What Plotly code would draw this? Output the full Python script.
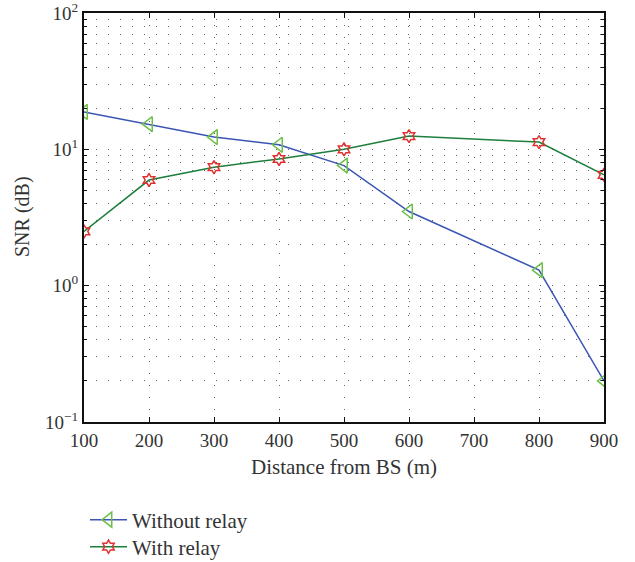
import plotly.graph_objects as go

distance = [100, 200, 300, 400, 500, 600, 800, 900]
snr_without = [18.8, 15.3, 12.3, 10.8, 7.6, 3.5, 1.3, 0.2]
snr_with = [2.5, 5.95, 7.4, 8.5, 10.0, 12.5, 11.3, 6.5]

y_tickvals = [0.1, 1, 10, 100]
y_ticktext = ["10<sup>\u22121</sup>", "10<sup>0</sup>", "10<sup>1</sup>", "10<sup>2</sup>"]
x_tickvals = [100, 200, 300, 400, 500, 600, 700, 800, 900]

FONT = "Liberation Serif, DejaVu Serif, serif"

fig = go.Figure()
fig.add_trace(go.Scatter(
    x=distance, y=snr_without, mode="lines+markers", name="Without relay",
    legend="legend",
    line=dict(color="#3a55b4", width=1.5),
    marker=dict(symbol="triangle-left-open", size=13, color="#6cc04a",
                line=dict(width=1.5, color="#6cc04a")),
))
fig.add_trace(go.Scatter(
    x=distance, y=snr_with, mode="lines+markers", name="With relay",
    legend="legend2",
    line=dict(color="#1d7f3c", width=1.5),
    marker=dict(symbol="hexagram-open", size=10, color="#e03030",
                line=dict(width=1.5, color="#e03030")),
))

leg_common = dict(xref="container", yref="container", xanchor="left", yanchor="middle",
                  font=dict(size=21, color="#333"), bgcolor="rgba(0,0,0,0)",
                  itemwidth=37)

fig.update_layout(
    width=635, height=562,
    margin=dict(l=84, r=31, t=13, b=140, autoexpand=False),
    paper_bgcolor="white", plot_bgcolor="white",
    font=dict(family=FONT, size=19, color="#333"),
    showlegend=True,
    legend=dict(x=85 / 635, y=1 - 520 / 562, **leg_common),
    legend2=dict(x=85 / 635, y=1 - 547 / 562, **leg_common),
    annotations=[
        dict(text="Distance from BS (m)", xref="paper", yref="paper",
             x=0.5, y=-(467 - 422) / 409, xanchor="center", yanchor="middle",
             showarrow=False, font=dict(size=21, color="#333")),
        dict(text="SNR (dB)", xref="paper", yref="paper",
             x=-(84 - 22) / 520, y=1 - (217 - 13) / 409, xanchor="center", yanchor="middle",
             textangle=-90, showarrow=False, font=dict(size=20, color="#333")),
    ],
)

fig.update_xaxes(
    range=[100, 900], tickvals=x_tickvals, automargin=False,
    tickfont=dict(size=19), ticklabeloverflow="allow",
    showline=True, linecolor="#111", linewidth=2, mirror="ticks",
    ticks="inside", ticklen=5, tickcolor="#111",
    showgrid=True, gridcolor="#666", griddash="1px,11px", gridwidth=1,
    zeroline=False,
)
fig.update_yaxes(
    type="log", range=[-1, 2], tickvals=y_tickvals, ticktext=y_ticktext,
    automargin=False, tickfont=dict(size=19), ticklabeloverflow="allow",
    showline=True, linecolor="#111", linewidth=2, mirror="ticks",
    ticks="inside", ticklen=5, tickcolor="#111",
    showgrid=True, gridcolor="#666", griddash="1px,11px", gridwidth=1,
    minor=dict(ticks="inside", ticklen=3, tickcolor="#111", showgrid=True,
               gridcolor="#666", griddash="1px,11px", gridwidth=1,
               tickvals=[m * 10 ** e for e in (-1, 0, 1) for m in range(2, 10)]),
    zeroline=False,
)

fig.write_html("out.html")
